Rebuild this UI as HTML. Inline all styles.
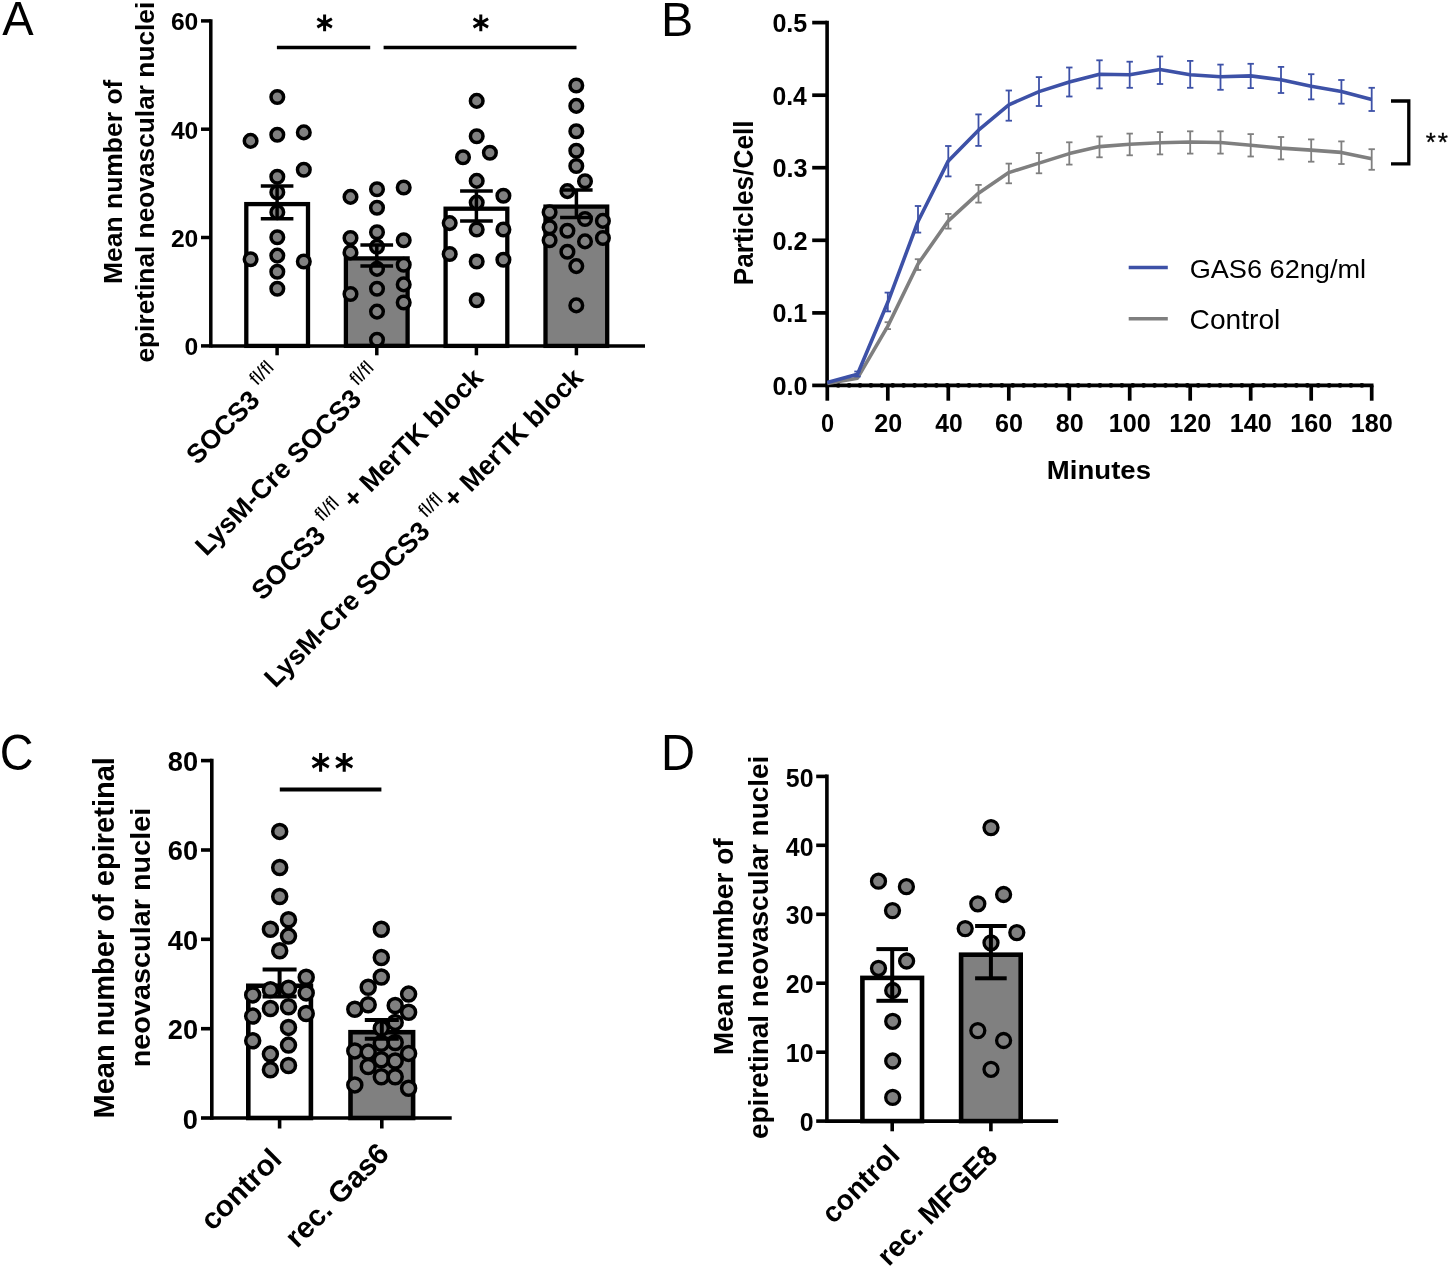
<!DOCTYPE html>
<html><head><meta charset="utf-8"><style>
html,body{margin:0;padding:0;background:#fff;}
svg{display:block;will-change:transform;}
text{font-family:"Liberation Sans",sans-serif;fill:#000;}
</style></head><body>
<svg width="1450" height="1269" viewBox="0 0 1450 1269">
<rect width="1450" height="1269" fill="#fff"/>
<text transform="translate(2.18,35.40) scale(0.9708,1)" font-size="48.51" font-weight="normal">A</text>
<rect x="246.3" y="204.1" width="61.7" height="141.8" fill="#fff" stroke="#000" stroke-width="4.3"/>
<rect x="345.9" y="258.4" width="61.7" height="87.4" fill="#808080" stroke="#000" stroke-width="4.3"/>
<rect x="445.6" y="208.7" width="61.7" height="137.2" fill="#fff" stroke="#000" stroke-width="4.3"/>
<rect x="545.5" y="206.6" width="61.7" height="139.3" fill="#808080" stroke="#000" stroke-width="4.3"/>
<circle cx="277.3" cy="97.0" r="6.3" fill="#808080" stroke="#000" stroke-width="3.5"/>
<circle cx="250.6" cy="140.9" r="6.3" fill="#808080" stroke="#000" stroke-width="3.5"/>
<circle cx="277.3" cy="134.7" r="6.3" fill="#808080" stroke="#000" stroke-width="3.5"/>
<circle cx="303.8" cy="132.4" r="6.3" fill="#808080" stroke="#000" stroke-width="3.5"/>
<circle cx="303.8" cy="169.7" r="6.3" fill="#808080" stroke="#000" stroke-width="3.5"/>
<circle cx="277.3" cy="176.7" r="6.3" fill="#808080" stroke="#000" stroke-width="3.5"/>
<circle cx="277.3" cy="192.3" r="6.3" fill="#808080" stroke="#000" stroke-width="3.5"/>
<circle cx="277.3" cy="212.2" r="6.3" fill="#808080" stroke="#000" stroke-width="3.5"/>
<circle cx="277.3" cy="237.3" r="6.3" fill="#808080" stroke="#000" stroke-width="3.5"/>
<circle cx="250.6" cy="259.3" r="6.3" fill="#808080" stroke="#000" stroke-width="3.5"/>
<circle cx="277.3" cy="255.6" r="6.3" fill="#808080" stroke="#000" stroke-width="3.5"/>
<circle cx="303.8" cy="261.5" r="6.3" fill="#808080" stroke="#000" stroke-width="3.5"/>
<circle cx="277.3" cy="271.8" r="6.3" fill="#808080" stroke="#000" stroke-width="3.5"/>
<circle cx="277.3" cy="288.7" r="6.3" fill="#808080" stroke="#000" stroke-width="3.5"/>
<circle cx="350.5" cy="196.9" r="6.3" fill="#808080" stroke="#000" stroke-width="3.5"/>
<circle cx="377.0" cy="189.3" r="6.3" fill="#808080" stroke="#000" stroke-width="3.5"/>
<circle cx="403.7" cy="187.5" r="6.3" fill="#808080" stroke="#000" stroke-width="3.5"/>
<circle cx="377.0" cy="207.8" r="6.3" fill="#808080" stroke="#000" stroke-width="3.5"/>
<circle cx="350.5" cy="238.0" r="6.3" fill="#808080" stroke="#000" stroke-width="3.5"/>
<circle cx="377.0" cy="232.3" r="6.3" fill="#808080" stroke="#000" stroke-width="3.5"/>
<circle cx="403.7" cy="240.3" r="6.3" fill="#808080" stroke="#000" stroke-width="3.5"/>
<circle cx="377.0" cy="246.7" r="6.3" fill="#808080" stroke="#000" stroke-width="3.5"/>
<circle cx="350.5" cy="252.4" r="6.3" fill="#808080" stroke="#000" stroke-width="3.5"/>
<circle cx="403.7" cy="264.7" r="6.3" fill="#808080" stroke="#000" stroke-width="3.5"/>
<circle cx="377.0" cy="268.9" r="6.3" fill="#808080" stroke="#000" stroke-width="3.5"/>
<circle cx="403.7" cy="284.4" r="6.3" fill="#808080" stroke="#000" stroke-width="3.5"/>
<circle cx="377.0" cy="288.7" r="6.3" fill="#808080" stroke="#000" stroke-width="3.5"/>
<circle cx="350.5" cy="294.0" r="6.3" fill="#808080" stroke="#000" stroke-width="3.5"/>
<circle cx="403.7" cy="302.5" r="6.3" fill="#808080" stroke="#000" stroke-width="3.5"/>
<circle cx="377.0" cy="311.6" r="6.3" fill="#808080" stroke="#000" stroke-width="3.5"/>
<circle cx="377.0" cy="339.7" r="6.3" fill="#808080" stroke="#000" stroke-width="3.5"/>
<circle cx="476.7" cy="100.9" r="6.3" fill="#808080" stroke="#000" stroke-width="3.5"/>
<circle cx="476.7" cy="136.3" r="6.3" fill="#808080" stroke="#000" stroke-width="3.5"/>
<circle cx="463.0" cy="157.3" r="6.3" fill="#808080" stroke="#000" stroke-width="3.5"/>
<circle cx="489.9" cy="152.7" r="6.3" fill="#808080" stroke="#000" stroke-width="3.5"/>
<circle cx="476.7" cy="180.9" r="6.3" fill="#808080" stroke="#000" stroke-width="3.5"/>
<circle cx="503.4" cy="195.7" r="6.3" fill="#808080" stroke="#000" stroke-width="3.5"/>
<circle cx="476.7" cy="202.6" r="6.3" fill="#808080" stroke="#000" stroke-width="3.5"/>
<circle cx="449.7" cy="223.1" r="6.3" fill="#808080" stroke="#000" stroke-width="3.5"/>
<circle cx="476.7" cy="229.5" r="6.3" fill="#808080" stroke="#000" stroke-width="3.5"/>
<circle cx="503.4" cy="229.5" r="6.3" fill="#808080" stroke="#000" stroke-width="3.5"/>
<circle cx="449.7" cy="254.0" r="6.3" fill="#808080" stroke="#000" stroke-width="3.5"/>
<circle cx="476.7" cy="261.5" r="6.3" fill="#808080" stroke="#000" stroke-width="3.5"/>
<circle cx="503.4" cy="259.7" r="6.3" fill="#808080" stroke="#000" stroke-width="3.5"/>
<circle cx="476.7" cy="300.2" r="6.3" fill="#808080" stroke="#000" stroke-width="3.5"/>
<circle cx="576.3" cy="85.5" r="6.3" fill="#808080" stroke="#000" stroke-width="3.5"/>
<circle cx="576.3" cy="105.9" r="6.3" fill="#808080" stroke="#000" stroke-width="3.5"/>
<circle cx="576.3" cy="131.3" r="6.3" fill="#808080" stroke="#000" stroke-width="3.5"/>
<circle cx="576.3" cy="150.7" r="6.3" fill="#808080" stroke="#000" stroke-width="3.5"/>
<circle cx="576.3" cy="166.0" r="6.3" fill="#808080" stroke="#000" stroke-width="3.5"/>
<circle cx="585.0" cy="181.3" r="6.3" fill="#808080" stroke="#000" stroke-width="3.5"/>
<circle cx="567.4" cy="191.1" r="6.3" fill="#808080" stroke="#000" stroke-width="3.5"/>
<circle cx="549.6" cy="212.2" r="6.3" fill="#808080" stroke="#000" stroke-width="3.5"/>
<circle cx="585.0" cy="219.0" r="6.3" fill="#808080" stroke="#000" stroke-width="3.5"/>
<circle cx="602.9" cy="220.9" r="6.3" fill="#808080" stroke="#000" stroke-width="3.5"/>
<circle cx="549.6" cy="227.3" r="6.3" fill="#808080" stroke="#000" stroke-width="3.5"/>
<circle cx="567.4" cy="230.7" r="6.3" fill="#808080" stroke="#000" stroke-width="3.5"/>
<circle cx="549.6" cy="240.3" r="6.3" fill="#808080" stroke="#000" stroke-width="3.5"/>
<circle cx="585.0" cy="241.4" r="6.3" fill="#808080" stroke="#000" stroke-width="3.5"/>
<circle cx="602.9" cy="238.0" r="6.3" fill="#808080" stroke="#000" stroke-width="3.5"/>
<circle cx="567.4" cy="251.7" r="6.3" fill="#808080" stroke="#000" stroke-width="3.5"/>
<circle cx="576.3" cy="266.1" r="6.3" fill="#808080" stroke="#000" stroke-width="3.5"/>
<circle cx="576.3" cy="305.4" r="6.3" fill="#808080" stroke="#000" stroke-width="3.5"/>
<line x1="277.1" y1="185.9" x2="277.1" y2="218.8" stroke="#000" stroke-width="3.5" stroke-linecap="butt"/>
<line x1="260.8" y1="185.9" x2="293.4" y2="185.9" stroke="#000" stroke-width="3.5" stroke-linecap="butt"/>
<line x1="260.8" y1="218.8" x2="293.4" y2="218.8" stroke="#000" stroke-width="3.5" stroke-linecap="butt"/>
<line x1="376.8" y1="244.9" x2="376.8" y2="266.1" stroke="#000" stroke-width="3.5" stroke-linecap="butt"/>
<line x1="360.4" y1="244.9" x2="393.1" y2="244.9" stroke="#000" stroke-width="3.5" stroke-linecap="butt"/>
<line x1="360.4" y1="266.1" x2="393.1" y2="266.1" stroke="#000" stroke-width="3.5" stroke-linecap="butt"/>
<line x1="476.4" y1="191.1" x2="476.4" y2="220.9" stroke="#000" stroke-width="3.5" stroke-linecap="butt"/>
<line x1="460.1" y1="191.1" x2="492.8" y2="191.1" stroke="#000" stroke-width="3.5" stroke-linecap="butt"/>
<line x1="460.1" y1="220.9" x2="492.8" y2="220.9" stroke="#000" stroke-width="3.5" stroke-linecap="butt"/>
<line x1="576.4" y1="190.0" x2="576.4" y2="217.4" stroke="#000" stroke-width="3.5" stroke-linecap="butt"/>
<line x1="560.1" y1="190.0" x2="592.6" y2="190.0" stroke="#000" stroke-width="3.5" stroke-linecap="butt"/>
<line x1="560.1" y1="217.4" x2="592.6" y2="217.4" stroke="#000" stroke-width="3.5" stroke-linecap="butt"/>
<line x1="210.8" y1="19.2" x2="210.8" y2="347.6" stroke="#000" stroke-width="3.5" stroke-linecap="butt"/>
<line x1="201.0" y1="345.9" x2="210.8" y2="345.9" stroke="#000" stroke-width="3.5" stroke-linecap="butt"/>
<line x1="201.0" y1="237.5" x2="210.8" y2="237.5" stroke="#000" stroke-width="3.5" stroke-linecap="butt"/>
<line x1="201.0" y1="129.2" x2="210.8" y2="129.2" stroke="#000" stroke-width="3.5" stroke-linecap="butt"/>
<line x1="201.0" y1="20.9" x2="210.8" y2="20.9" stroke="#000" stroke-width="3.5" stroke-linecap="butt"/>
<line x1="210.8" y1="345.9" x2="645.0" y2="345.9" stroke="#000" stroke-width="3.5" stroke-linecap="butt"/>
<line x1="277.1" y1="345.9" x2="277.1" y2="355.3" stroke="#000" stroke-width="3.5" stroke-linecap="butt"/>
<line x1="376.8" y1="345.9" x2="376.8" y2="355.3" stroke="#000" stroke-width="3.5" stroke-linecap="butt"/>
<line x1="476.4" y1="345.9" x2="476.4" y2="355.3" stroke="#000" stroke-width="3.5" stroke-linecap="butt"/>
<line x1="576.4" y1="345.9" x2="576.4" y2="355.3" stroke="#000" stroke-width="3.5" stroke-linecap="butt"/>
<text transform="translate(184.60,355.15)" font-size="24.66" font-weight="bold">0</text>
<text transform="translate(170.91,246.83)" font-size="24.66" font-weight="bold">20</text>
<text transform="translate(170.91,138.52)" font-size="24.66" font-weight="bold">40</text>
<text transform="translate(170.91,30.20)" font-size="24.66" font-weight="bold">60</text>
<text transform="translate(121.90,283.99) rotate(-90) scale(1.0213,1)" font-size="25.93" font-weight="bold">Mean number of</text>
<text transform="translate(154.40,362.55) rotate(-90) scale(1.0198,1)" font-size="25.79" font-weight="bold">epiretinal neovascular nuclei</text>
<line x1="276.9" y1="47.5" x2="370.2" y2="47.5" stroke="#000" stroke-width="3.5" stroke-linecap="butt"/>
<line x1="383.6" y1="47.5" x2="576.5" y2="47.5" stroke="#000" stroke-width="3.5" stroke-linecap="butt"/>
<path d="M324.60,14.50L324.60,31.30M331.87,18.70L317.33,27.10M331.87,27.10L317.33,18.70" stroke="#000" stroke-width="3.0" fill="none"/>
<path d="M480.80,14.50L480.80,31.30M488.07,18.70L473.53,27.10M488.07,27.10L473.53,18.70" stroke="#000" stroke-width="3.0" fill="none"/>
<text transform="translate(197.35,465.63) rotate(-45) scale(0.9917,1)" font-size="26.90" font-weight="bold">SOCS3</text>
<text transform="translate(257.11,386.36) rotate(-45) scale(1.0242,1)" font-size="19.20" font-weight="normal">fl/fl</text>
<text transform="translate(206.24,557.01) rotate(-45) scale(1.0056,1)" font-size="26.90" font-weight="bold">LysM-Cre SOCS3</text>
<text transform="translate(357.16,386.57) rotate(-45) scale(1.0199,1)" font-size="19.20" font-weight="normal">fl/fl</text>
<text transform="translate(262.62,601.47) rotate(-45) scale(0.9984,1)" font-size="26.90" font-weight="bold">SOCS3</text>
<text transform="translate(322.23,522.34) rotate(-45) scale(1.0329,1)" font-size="19.20" font-weight="normal">fl/fl</text>
<text transform="translate(354.09,510.00) rotate(-45)" font-size="26.90" font-weight="bold">+ MerTK block</text>
<text transform="translate(275.26,688.67) rotate(-45) scale(1.0028,1)" font-size="26.90" font-weight="bold">LysM-Cre SOCS3</text>
<text transform="translate(425.96,518.45) rotate(-45) scale(1.0242,1)" font-size="19.20" font-weight="normal">fl/fl</text>
<text transform="translate(454.36,509.57) rotate(-45) scale(0.9982,1)" font-size="26.90" font-weight="bold">+ MerTK block</text>
<text transform="translate(660.92,35.50) scale(0.9920,1)" font-size="48.65" font-weight="normal">B</text>
<line x1="827.1" y1="20.8" x2="827.1" y2="385.4" stroke="#000" stroke-width="3.6" stroke-linecap="butt"/>
<line x1="812.2" y1="385.4" x2="827.1" y2="385.4" stroke="#000" stroke-width="3.7" stroke-linecap="butt"/>
<text transform="translate(772.39,395.05) scale(0.9987,1)" font-size="25.38" font-weight="bold">0.0</text>
<line x1="812.2" y1="312.9" x2="827.1" y2="312.9" stroke="#000" stroke-width="3.7" stroke-linecap="butt"/>
<text transform="translate(772.40,322.48) scale(0.9893,1)" font-size="25.38" font-weight="bold">0.1</text>
<line x1="812.2" y1="240.3" x2="827.1" y2="240.3" stroke="#000" stroke-width="3.7" stroke-linecap="butt"/>
<text transform="translate(772.39,249.91) scale(0.9987,1)" font-size="25.38" font-weight="bold">0.2</text>
<line x1="812.2" y1="167.7" x2="827.1" y2="167.7" stroke="#000" stroke-width="3.7" stroke-linecap="butt"/>
<text transform="translate(772.39,177.34) scale(0.9949,1)" font-size="25.38" font-weight="bold">0.3</text>
<line x1="812.2" y1="95.2" x2="827.1" y2="95.2" stroke="#000" stroke-width="3.7" stroke-linecap="butt"/>
<text transform="translate(772.41,104.77) scale(0.9727,1)" font-size="25.38" font-weight="bold">0.4</text>
<line x1="812.2" y1="22.6" x2="827.1" y2="22.6" stroke="#000" stroke-width="3.7" stroke-linecap="butt"/>
<text transform="translate(772.40,32.20) scale(0.9893,1)" font-size="25.38" font-weight="bold">0.5</text>
<line x1="825.5" y1="385.4" x2="1373.5" y2="385.4" stroke="#000" stroke-width="3.7" stroke-linecap="butt"/>
<line x1="827.3" y1="385.45" x2="1368" y2="385.45" stroke="#000" stroke-width="4.7" stroke-dasharray="0.01 10.9" stroke-linecap="round"/>
<line x1="827.3" y1="385.4" x2="827.3" y2="400.7" stroke="#000" stroke-width="3.7" stroke-linecap="butt"/>
<text transform="translate(821.06,432.40) scale(0.9292,1)" font-size="25.38" font-weight="bold">0</text>
<line x1="887.8" y1="385.4" x2="887.8" y2="400.7" stroke="#000" stroke-width="3.7" stroke-linecap="butt"/>
<text transform="translate(874.21,432.40) scale(0.9899,1)" font-size="25.38" font-weight="bold">20</text>
<line x1="948.3" y1="385.4" x2="948.3" y2="400.7" stroke="#000" stroke-width="3.7" stroke-linecap="butt"/>
<text transform="translate(935.21,432.40) scale(0.9712,1)" font-size="25.38" font-weight="bold">40</text>
<line x1="1008.8" y1="385.4" x2="1008.8" y2="400.7" stroke="#000" stroke-width="3.7" stroke-linecap="butt"/>
<text transform="translate(995.12,432.40) scale(0.9923,1)" font-size="25.38" font-weight="bold">60</text>
<line x1="1069.3" y1="385.4" x2="1069.3" y2="400.7" stroke="#000" stroke-width="3.7" stroke-linecap="butt"/>
<text transform="translate(1055.74,432.40) scale(0.9875,1)" font-size="25.38" font-weight="bold">80</text>
<line x1="1129.7" y1="385.4" x2="1129.7" y2="400.7" stroke="#000" stroke-width="3.7" stroke-linecap="butt"/>
<text transform="translate(1108.71,432.40) scale(0.9946,1)" font-size="25.38" font-weight="bold">100</text>
<line x1="1190.2" y1="385.4" x2="1190.2" y2="400.7" stroke="#000" stroke-width="3.7" stroke-linecap="butt"/>
<text transform="translate(1169.20,432.40) scale(0.9946,1)" font-size="25.38" font-weight="bold">120</text>
<line x1="1250.7" y1="385.4" x2="1250.7" y2="400.7" stroke="#000" stroke-width="3.7" stroke-linecap="butt"/>
<text transform="translate(1229.69,432.40) scale(0.9946,1)" font-size="25.38" font-weight="bold">140</text>
<line x1="1311.2" y1="385.4" x2="1311.2" y2="400.7" stroke="#000" stroke-width="3.7" stroke-linecap="butt"/>
<text transform="translate(1290.18,432.40) scale(0.9946,1)" font-size="25.38" font-weight="bold">160</text>
<line x1="1371.7" y1="385.4" x2="1371.7" y2="400.7" stroke="#000" stroke-width="3.7" stroke-linecap="butt"/>
<text transform="translate(1350.66,432.40) scale(0.9946,1)" font-size="25.38" font-weight="bold">180</text>
<text transform="translate(1046.84,479.30) scale(1.0578,1)" font-size="26.07" font-weight="bold">Minutes</text>
<text transform="translate(753.30,285.27) rotate(-90) scale(0.9378,1)" font-size="28.00" font-weight="bold">Particles/Cell</text>
<line x1="887.8" y1="322.2" x2="887.8" y2="329.1" stroke="#7f7f7f" stroke-width="1.8" stroke-linecap="butt"/>
<line x1="884.6" y1="322.2" x2="891.0" y2="322.2" stroke="#7f7f7f" stroke-width="1.8" stroke-linecap="butt"/>
<line x1="884.6" y1="329.1" x2="891.0" y2="329.1" stroke="#7f7f7f" stroke-width="1.8" stroke-linecap="butt"/>
<line x1="918.0" y1="259.2" x2="918.0" y2="270.0" stroke="#7f7f7f" stroke-width="1.8" stroke-linecap="butt"/>
<line x1="914.8" y1="259.2" x2="921.2" y2="259.2" stroke="#7f7f7f" stroke-width="1.8" stroke-linecap="butt"/>
<line x1="914.8" y1="270.0" x2="921.2" y2="270.0" stroke="#7f7f7f" stroke-width="1.8" stroke-linecap="butt"/>
<line x1="948.3" y1="213.9" x2="948.3" y2="228.6" stroke="#7f7f7f" stroke-width="1.8" stroke-linecap="butt"/>
<line x1="945.1" y1="213.9" x2="951.5" y2="213.9" stroke="#7f7f7f" stroke-width="1.8" stroke-linecap="butt"/>
<line x1="945.1" y1="228.6" x2="951.5" y2="228.6" stroke="#7f7f7f" stroke-width="1.8" stroke-linecap="butt"/>
<line x1="978.5" y1="184.9" x2="978.5" y2="202.6" stroke="#7f7f7f" stroke-width="1.8" stroke-linecap="butt"/>
<line x1="975.3" y1="184.9" x2="981.7" y2="184.9" stroke="#7f7f7f" stroke-width="1.8" stroke-linecap="butt"/>
<line x1="975.3" y1="202.6" x2="981.7" y2="202.6" stroke="#7f7f7f" stroke-width="1.8" stroke-linecap="butt"/>
<line x1="1008.8" y1="163.6" x2="1008.8" y2="183.3" stroke="#7f7f7f" stroke-width="1.8" stroke-linecap="butt"/>
<line x1="1005.6" y1="163.6" x2="1012.0" y2="163.6" stroke="#7f7f7f" stroke-width="1.8" stroke-linecap="butt"/>
<line x1="1005.6" y1="183.3" x2="1012.0" y2="183.3" stroke="#7f7f7f" stroke-width="1.8" stroke-linecap="butt"/>
<line x1="1039.0" y1="153.0" x2="1039.0" y2="173.3" stroke="#7f7f7f" stroke-width="1.8" stroke-linecap="butt"/>
<line x1="1035.8" y1="153.0" x2="1042.2" y2="153.0" stroke="#7f7f7f" stroke-width="1.8" stroke-linecap="butt"/>
<line x1="1035.8" y1="173.3" x2="1042.2" y2="173.3" stroke="#7f7f7f" stroke-width="1.8" stroke-linecap="butt"/>
<line x1="1069.3" y1="142.3" x2="1069.3" y2="164.6" stroke="#7f7f7f" stroke-width="1.8" stroke-linecap="butt"/>
<line x1="1066.1" y1="142.3" x2="1072.5" y2="142.3" stroke="#7f7f7f" stroke-width="1.8" stroke-linecap="butt"/>
<line x1="1066.1" y1="164.6" x2="1072.5" y2="164.6" stroke="#7f7f7f" stroke-width="1.8" stroke-linecap="butt"/>
<line x1="1099.5" y1="136.5" x2="1099.5" y2="157.3" stroke="#7f7f7f" stroke-width="1.8" stroke-linecap="butt"/>
<line x1="1096.3" y1="136.5" x2="1102.7" y2="136.5" stroke="#7f7f7f" stroke-width="1.8" stroke-linecap="butt"/>
<line x1="1096.3" y1="157.3" x2="1102.7" y2="157.3" stroke="#7f7f7f" stroke-width="1.8" stroke-linecap="butt"/>
<line x1="1129.7" y1="133.6" x2="1129.7" y2="155.3" stroke="#7f7f7f" stroke-width="1.8" stroke-linecap="butt"/>
<line x1="1126.5" y1="133.6" x2="1132.9" y2="133.6" stroke="#7f7f7f" stroke-width="1.8" stroke-linecap="butt"/>
<line x1="1126.5" y1="155.3" x2="1132.9" y2="155.3" stroke="#7f7f7f" stroke-width="1.8" stroke-linecap="butt"/>
<line x1="1160.0" y1="132.1" x2="1160.0" y2="154.4" stroke="#7f7f7f" stroke-width="1.8" stroke-linecap="butt"/>
<line x1="1156.8" y1="132.1" x2="1163.2" y2="132.1" stroke="#7f7f7f" stroke-width="1.8" stroke-linecap="butt"/>
<line x1="1156.8" y1="154.4" x2="1163.2" y2="154.4" stroke="#7f7f7f" stroke-width="1.8" stroke-linecap="butt"/>
<line x1="1190.2" y1="131.3" x2="1190.2" y2="153.6" stroke="#7f7f7f" stroke-width="1.8" stroke-linecap="butt"/>
<line x1="1187.0" y1="131.3" x2="1193.4" y2="131.3" stroke="#7f7f7f" stroke-width="1.8" stroke-linecap="butt"/>
<line x1="1187.0" y1="153.6" x2="1193.4" y2="153.6" stroke="#7f7f7f" stroke-width="1.8" stroke-linecap="butt"/>
<line x1="1220.5" y1="131.3" x2="1220.5" y2="153.6" stroke="#7f7f7f" stroke-width="1.8" stroke-linecap="butt"/>
<line x1="1217.3" y1="131.3" x2="1223.7" y2="131.3" stroke="#7f7f7f" stroke-width="1.8" stroke-linecap="butt"/>
<line x1="1217.3" y1="153.6" x2="1223.7" y2="153.6" stroke="#7f7f7f" stroke-width="1.8" stroke-linecap="butt"/>
<line x1="1250.7" y1="134.1" x2="1250.7" y2="156.5" stroke="#7f7f7f" stroke-width="1.8" stroke-linecap="butt"/>
<line x1="1247.5" y1="134.1" x2="1253.9" y2="134.1" stroke="#7f7f7f" stroke-width="1.8" stroke-linecap="butt"/>
<line x1="1247.5" y1="156.5" x2="1253.9" y2="156.5" stroke="#7f7f7f" stroke-width="1.8" stroke-linecap="butt"/>
<line x1="1281.0" y1="137.0" x2="1281.0" y2="159.4" stroke="#7f7f7f" stroke-width="1.8" stroke-linecap="butt"/>
<line x1="1277.8" y1="137.0" x2="1284.2" y2="137.0" stroke="#7f7f7f" stroke-width="1.8" stroke-linecap="butt"/>
<line x1="1277.8" y1="159.4" x2="1284.2" y2="159.4" stroke="#7f7f7f" stroke-width="1.8" stroke-linecap="butt"/>
<line x1="1311.2" y1="139.4" x2="1311.2" y2="161.7" stroke="#7f7f7f" stroke-width="1.8" stroke-linecap="butt"/>
<line x1="1308.0" y1="139.4" x2="1314.4" y2="139.4" stroke="#7f7f7f" stroke-width="1.8" stroke-linecap="butt"/>
<line x1="1308.0" y1="161.7" x2="1314.4" y2="161.7" stroke="#7f7f7f" stroke-width="1.8" stroke-linecap="butt"/>
<line x1="1341.4" y1="141.4" x2="1341.4" y2="164.0" stroke="#7f7f7f" stroke-width="1.8" stroke-linecap="butt"/>
<line x1="1338.2" y1="141.4" x2="1344.6" y2="141.4" stroke="#7f7f7f" stroke-width="1.8" stroke-linecap="butt"/>
<line x1="1338.2" y1="164.0" x2="1344.6" y2="164.0" stroke="#7f7f7f" stroke-width="1.8" stroke-linecap="butt"/>
<line x1="1371.7" y1="149.2" x2="1371.7" y2="169.8" stroke="#7f7f7f" stroke-width="1.8" stroke-linecap="butt"/>
<line x1="1368.5" y1="149.2" x2="1374.9" y2="149.2" stroke="#7f7f7f" stroke-width="1.8" stroke-linecap="butt"/>
<line x1="1368.5" y1="169.8" x2="1374.9" y2="169.8" stroke="#7f7f7f" stroke-width="1.8" stroke-linecap="butt"/>
<polyline points="827.3,383.6 857.5,378.2 887.8,326.1 918.0,264.0 948.3,220.8 978.5,193.2 1008.8,172.6 1039.0,163.1 1069.3,153.6 1099.5,146.6 1129.7,144.3 1160.0,142.8 1190.2,142.0 1220.5,142.5 1250.7,145.2 1281.0,148.1 1311.2,150.1 1341.4,152.4 1371.7,158.8" fill="none" stroke="#7f7f7f" stroke-width="3.6" stroke-linejoin="round"/>
<line x1="857.5" y1="371.5" x2="857.5" y2="376.5" stroke="#3d51a7" stroke-width="1.8" stroke-linecap="butt"/>
<line x1="854.3" y1="371.5" x2="860.7" y2="371.5" stroke="#3d51a7" stroke-width="1.8" stroke-linecap="butt"/>
<line x1="854.3" y1="376.5" x2="860.7" y2="376.5" stroke="#3d51a7" stroke-width="1.8" stroke-linecap="butt"/>
<line x1="887.8" y1="292.6" x2="887.8" y2="311.4" stroke="#3d51a7" stroke-width="1.8" stroke-linecap="butt"/>
<line x1="884.6" y1="292.6" x2="891.0" y2="292.6" stroke="#3d51a7" stroke-width="1.8" stroke-linecap="butt"/>
<line x1="884.6" y1="311.4" x2="891.0" y2="311.4" stroke="#3d51a7" stroke-width="1.8" stroke-linecap="butt"/>
<line x1="918.0" y1="206.0" x2="918.0" y2="232.6" stroke="#3d51a7" stroke-width="1.8" stroke-linecap="butt"/>
<line x1="914.8" y1="206.0" x2="921.2" y2="206.0" stroke="#3d51a7" stroke-width="1.8" stroke-linecap="butt"/>
<line x1="914.8" y1="232.6" x2="921.2" y2="232.6" stroke="#3d51a7" stroke-width="1.8" stroke-linecap="butt"/>
<line x1="948.3" y1="146.0" x2="948.3" y2="176.4" stroke="#3d51a7" stroke-width="1.8" stroke-linecap="butt"/>
<line x1="945.1" y1="146.0" x2="951.5" y2="146.0" stroke="#3d51a7" stroke-width="1.8" stroke-linecap="butt"/>
<line x1="945.1" y1="176.4" x2="951.5" y2="176.4" stroke="#3d51a7" stroke-width="1.8" stroke-linecap="butt"/>
<line x1="978.5" y1="114.4" x2="978.5" y2="145.9" stroke="#3d51a7" stroke-width="1.8" stroke-linecap="butt"/>
<line x1="975.3" y1="114.4" x2="981.7" y2="114.4" stroke="#3d51a7" stroke-width="1.8" stroke-linecap="butt"/>
<line x1="975.3" y1="145.9" x2="981.7" y2="145.9" stroke="#3d51a7" stroke-width="1.8" stroke-linecap="butt"/>
<line x1="1008.8" y1="90.5" x2="1008.8" y2="120.7" stroke="#3d51a7" stroke-width="1.8" stroke-linecap="butt"/>
<line x1="1005.6" y1="90.5" x2="1012.0" y2="90.5" stroke="#3d51a7" stroke-width="1.8" stroke-linecap="butt"/>
<line x1="1005.6" y1="120.7" x2="1012.0" y2="120.7" stroke="#3d51a7" stroke-width="1.8" stroke-linecap="butt"/>
<line x1="1039.0" y1="77.1" x2="1039.0" y2="106.0" stroke="#3d51a7" stroke-width="1.8" stroke-linecap="butt"/>
<line x1="1035.8" y1="77.1" x2="1042.2" y2="77.1" stroke="#3d51a7" stroke-width="1.8" stroke-linecap="butt"/>
<line x1="1035.8" y1="106.0" x2="1042.2" y2="106.0" stroke="#3d51a7" stroke-width="1.8" stroke-linecap="butt"/>
<line x1="1069.3" y1="67.5" x2="1069.3" y2="96.5" stroke="#3d51a7" stroke-width="1.8" stroke-linecap="butt"/>
<line x1="1066.1" y1="67.5" x2="1072.5" y2="67.5" stroke="#3d51a7" stroke-width="1.8" stroke-linecap="butt"/>
<line x1="1066.1" y1="96.5" x2="1072.5" y2="96.5" stroke="#3d51a7" stroke-width="1.8" stroke-linecap="butt"/>
<line x1="1099.5" y1="60.3" x2="1099.5" y2="88.4" stroke="#3d51a7" stroke-width="1.8" stroke-linecap="butt"/>
<line x1="1096.3" y1="60.3" x2="1102.7" y2="60.3" stroke="#3d51a7" stroke-width="1.8" stroke-linecap="butt"/>
<line x1="1096.3" y1="88.4" x2="1102.7" y2="88.4" stroke="#3d51a7" stroke-width="1.8" stroke-linecap="butt"/>
<line x1="1129.7" y1="61.7" x2="1129.7" y2="87.8" stroke="#3d51a7" stroke-width="1.8" stroke-linecap="butt"/>
<line x1="1126.5" y1="61.7" x2="1132.9" y2="61.7" stroke="#3d51a7" stroke-width="1.8" stroke-linecap="butt"/>
<line x1="1126.5" y1="87.8" x2="1132.9" y2="87.8" stroke="#3d51a7" stroke-width="1.8" stroke-linecap="butt"/>
<line x1="1160.0" y1="56.5" x2="1160.0" y2="84.0" stroke="#3d51a7" stroke-width="1.8" stroke-linecap="butt"/>
<line x1="1156.8" y1="56.5" x2="1163.2" y2="56.5" stroke="#3d51a7" stroke-width="1.8" stroke-linecap="butt"/>
<line x1="1156.8" y1="84.0" x2="1163.2" y2="84.0" stroke="#3d51a7" stroke-width="1.8" stroke-linecap="butt"/>
<line x1="1190.2" y1="60.9" x2="1190.2" y2="87.8" stroke="#3d51a7" stroke-width="1.8" stroke-linecap="butt"/>
<line x1="1187.0" y1="60.9" x2="1193.4" y2="60.9" stroke="#3d51a7" stroke-width="1.8" stroke-linecap="butt"/>
<line x1="1187.0" y1="87.8" x2="1193.4" y2="87.8" stroke="#3d51a7" stroke-width="1.8" stroke-linecap="butt"/>
<line x1="1220.5" y1="64.6" x2="1220.5" y2="89.8" stroke="#3d51a7" stroke-width="1.8" stroke-linecap="butt"/>
<line x1="1217.3" y1="64.6" x2="1223.7" y2="64.6" stroke="#3d51a7" stroke-width="1.8" stroke-linecap="butt"/>
<line x1="1217.3" y1="89.8" x2="1223.7" y2="89.8" stroke="#3d51a7" stroke-width="1.8" stroke-linecap="butt"/>
<line x1="1250.7" y1="63.8" x2="1250.7" y2="88.1" stroke="#3d51a7" stroke-width="1.8" stroke-linecap="butt"/>
<line x1="1247.5" y1="63.8" x2="1253.9" y2="63.8" stroke="#3d51a7" stroke-width="1.8" stroke-linecap="butt"/>
<line x1="1247.5" y1="88.1" x2="1253.9" y2="88.1" stroke="#3d51a7" stroke-width="1.8" stroke-linecap="butt"/>
<line x1="1281.0" y1="66.9" x2="1281.0" y2="93.0" stroke="#3d51a7" stroke-width="1.8" stroke-linecap="butt"/>
<line x1="1277.8" y1="66.9" x2="1284.2" y2="66.9" stroke="#3d51a7" stroke-width="1.8" stroke-linecap="butt"/>
<line x1="1277.8" y1="93.0" x2="1284.2" y2="93.0" stroke="#3d51a7" stroke-width="1.8" stroke-linecap="butt"/>
<line x1="1311.2" y1="74.2" x2="1311.2" y2="99.4" stroke="#3d51a7" stroke-width="1.8" stroke-linecap="butt"/>
<line x1="1308.0" y1="74.2" x2="1314.4" y2="74.2" stroke="#3d51a7" stroke-width="1.8" stroke-linecap="butt"/>
<line x1="1308.0" y1="99.4" x2="1314.4" y2="99.4" stroke="#3d51a7" stroke-width="1.8" stroke-linecap="butt"/>
<line x1="1341.4" y1="80.0" x2="1341.4" y2="103.7" stroke="#3d51a7" stroke-width="1.8" stroke-linecap="butt"/>
<line x1="1338.2" y1="80.0" x2="1344.6" y2="80.0" stroke="#3d51a7" stroke-width="1.8" stroke-linecap="butt"/>
<line x1="1338.2" y1="103.7" x2="1344.6" y2="103.7" stroke="#3d51a7" stroke-width="1.8" stroke-linecap="butt"/>
<line x1="1371.7" y1="87.8" x2="1371.7" y2="111.0" stroke="#3d51a7" stroke-width="1.8" stroke-linecap="butt"/>
<line x1="1368.5" y1="87.8" x2="1374.9" y2="87.8" stroke="#3d51a7" stroke-width="1.8" stroke-linecap="butt"/>
<line x1="1368.5" y1="111.0" x2="1374.9" y2="111.0" stroke="#3d51a7" stroke-width="1.8" stroke-linecap="butt"/>
<polyline points="827.3,382.6 857.5,374.2 887.8,302.3 918.0,221.5 948.3,160.9 978.5,130.2 1008.8,104.8 1039.0,91.6 1069.3,82.0 1099.5,74.2 1129.7,74.8 1160.0,69.5 1190.2,74.8 1220.5,76.8 1250.7,75.9 1281.0,79.7 1311.2,86.3 1341.4,91.6 1371.7,99.4" fill="none" stroke="#3d51a7" stroke-width="3.6" stroke-linejoin="round"/>
<line x1="1128.7" y1="267.5" x2="1167.8" y2="267.5" stroke="#3d51a7" stroke-width="3.6" stroke-linecap="butt"/>
<line x1="1128.7" y1="318.7" x2="1167.8" y2="318.7" stroke="#7f7f7f" stroke-width="3.6" stroke-linecap="butt"/>
<text transform="translate(1189.64,277.60) scale(1.0359,1)" font-size="26.21" font-weight="normal">GAS6 62ng/ml</text>
<text transform="translate(1189.59,329.00) scale(1.0156,1)" font-size="27.72" font-weight="normal">Control</text>
<path d="M1391,101 H1408.8 V163.8 H1391" fill="none" stroke="#000" stroke-width="3.3"/>
<text transform="translate(1425.85,150.87) scale(0.9753,1)" font-size="26.57" font-weight="normal" stroke="#000" stroke-width="0.35">*</text>
<text transform="translate(1437.84,150.87) scale(0.9859,1)" font-size="26.57" font-weight="normal" stroke="#000" stroke-width="0.35">*</text>
<text transform="translate(-0.24,770.10) scale(0.9406,1)" font-size="49.75" font-weight="normal">C</text>
<rect x="248.3" y="985.8" width="62.6" height="132.2" fill="#fff" stroke="#000" stroke-width="4.6"/>
<rect x="350.5" y="1032.2" width="62.6" height="85.8" fill="#808080" stroke="#000" stroke-width="4.6"/>
<circle cx="279.7" cy="831.4" r="7.0" fill="#808080" stroke="#000" stroke-width="3.5"/>
<circle cx="279.7" cy="867.5" r="7.0" fill="#808080" stroke="#000" stroke-width="3.5"/>
<circle cx="279.7" cy="896.5" r="7.0" fill="#808080" stroke="#000" stroke-width="3.5"/>
<circle cx="288.5" cy="919.7" r="7.0" fill="#808080" stroke="#000" stroke-width="3.5"/>
<circle cx="270.4" cy="929.3" r="7.0" fill="#808080" stroke="#000" stroke-width="3.5"/>
<circle cx="288.5" cy="936.1" r="7.0" fill="#808080" stroke="#000" stroke-width="3.5"/>
<circle cx="279.7" cy="950.7" r="7.0" fill="#808080" stroke="#000" stroke-width="3.5"/>
<circle cx="306.2" cy="977.2" r="7.0" fill="#808080" stroke="#000" stroke-width="3.5"/>
<circle cx="270.4" cy="989.8" r="7.0" fill="#808080" stroke="#000" stroke-width="3.5"/>
<circle cx="288.5" cy="988.3" r="7.0" fill="#808080" stroke="#000" stroke-width="3.5"/>
<circle cx="252.7" cy="994.9" r="7.0" fill="#808080" stroke="#000" stroke-width="3.5"/>
<circle cx="306.2" cy="992.9" r="7.0" fill="#808080" stroke="#000" stroke-width="3.5"/>
<circle cx="270.4" cy="1008.5" r="7.0" fill="#808080" stroke="#000" stroke-width="3.5"/>
<circle cx="288.5" cy="1006.7" r="7.0" fill="#808080" stroke="#000" stroke-width="3.5"/>
<circle cx="252.7" cy="1016.1" r="7.0" fill="#808080" stroke="#000" stroke-width="3.5"/>
<circle cx="306.2" cy="1013.5" r="7.0" fill="#808080" stroke="#000" stroke-width="3.5"/>
<circle cx="288.5" cy="1027.4" r="7.0" fill="#808080" stroke="#000" stroke-width="3.5"/>
<circle cx="252.7" cy="1040.8" r="7.0" fill="#808080" stroke="#000" stroke-width="3.5"/>
<circle cx="288.5" cy="1045.1" r="7.0" fill="#808080" stroke="#000" stroke-width="3.5"/>
<circle cx="270.4" cy="1054.1" r="7.0" fill="#808080" stroke="#000" stroke-width="3.5"/>
<circle cx="288.5" cy="1065.5" r="7.0" fill="#808080" stroke="#000" stroke-width="3.5"/>
<circle cx="270.4" cy="1069.8" r="7.0" fill="#808080" stroke="#000" stroke-width="3.5"/>
<circle cx="381.3" cy="929.3" r="7.0" fill="#808080" stroke="#000" stroke-width="3.5"/>
<circle cx="381.3" cy="957.5" r="7.0" fill="#808080" stroke="#000" stroke-width="3.5"/>
<circle cx="381.3" cy="977.0" r="7.0" fill="#808080" stroke="#000" stroke-width="3.5"/>
<circle cx="368.2" cy="987.3" r="7.0" fill="#808080" stroke="#000" stroke-width="3.5"/>
<circle cx="408.6" cy="994.1" r="7.0" fill="#808080" stroke="#000" stroke-width="3.5"/>
<circle cx="354.8" cy="1009.2" r="7.0" fill="#808080" stroke="#000" stroke-width="3.5"/>
<circle cx="368.2" cy="1004.7" r="7.0" fill="#808080" stroke="#000" stroke-width="3.5"/>
<circle cx="395.2" cy="1005.5" r="7.0" fill="#808080" stroke="#000" stroke-width="3.5"/>
<circle cx="408.6" cy="1012.3" r="7.0" fill="#808080" stroke="#000" stroke-width="3.5"/>
<circle cx="395.2" cy="1022.4" r="7.0" fill="#808080" stroke="#000" stroke-width="3.5"/>
<circle cx="381.3" cy="1028.2" r="7.0" fill="#808080" stroke="#000" stroke-width="3.5"/>
<circle cx="381.3" cy="1043.3" r="7.0" fill="#808080" stroke="#000" stroke-width="3.5"/>
<circle cx="395.2" cy="1042.5" r="7.0" fill="#808080" stroke="#000" stroke-width="3.5"/>
<circle cx="354.8" cy="1050.9" r="7.0" fill="#808080" stroke="#000" stroke-width="3.5"/>
<circle cx="368.2" cy="1052.1" r="7.0" fill="#808080" stroke="#000" stroke-width="3.5"/>
<circle cx="408.6" cy="1053.4" r="7.0" fill="#808080" stroke="#000" stroke-width="3.5"/>
<circle cx="381.3" cy="1059.7" r="7.0" fill="#808080" stroke="#000" stroke-width="3.5"/>
<circle cx="395.2" cy="1061.0" r="7.0" fill="#808080" stroke="#000" stroke-width="3.5"/>
<circle cx="368.2" cy="1066.5" r="7.0" fill="#808080" stroke="#000" stroke-width="3.5"/>
<circle cx="381.3" cy="1076.8" r="7.0" fill="#808080" stroke="#000" stroke-width="3.5"/>
<circle cx="395.2" cy="1076.8" r="7.0" fill="#808080" stroke="#000" stroke-width="3.5"/>
<circle cx="354.8" cy="1084.9" r="7.0" fill="#808080" stroke="#000" stroke-width="3.5"/>
<circle cx="408.6" cy="1088.2" r="7.0" fill="#808080" stroke="#000" stroke-width="3.5"/>
<line x1="279.6" y1="969.4" x2="279.6" y2="996.6" stroke="#000" stroke-width="4" stroke-linecap="butt"/>
<line x1="262.6" y1="969.4" x2="296.6" y2="969.4" stroke="#000" stroke-width="4" stroke-linecap="butt"/>
<line x1="262.6" y1="996.6" x2="296.6" y2="996.6" stroke="#000" stroke-width="4" stroke-linecap="butt"/>
<line x1="381.8" y1="1020.1" x2="381.8" y2="1038.7" stroke="#000" stroke-width="4" stroke-linecap="butt"/>
<line x1="364.8" y1="1020.1" x2="398.8" y2="1020.1" stroke="#000" stroke-width="4" stroke-linecap="butt"/>
<line x1="364.8" y1="1038.7" x2="398.8" y2="1038.7" stroke="#000" stroke-width="4" stroke-linecap="butt"/>
<line x1="211.8" y1="758.8" x2="211.8" y2="1119.8" stroke="#000" stroke-width="3.6" stroke-linecap="butt"/>
<line x1="201.0" y1="1118.0" x2="211.8" y2="1118.0" stroke="#000" stroke-width="3.6" stroke-linecap="butt"/>
<text transform="translate(182.87,1128.50)" font-size="27.24" font-weight="bold">0</text>
<line x1="201.0" y1="1028.7" x2="211.8" y2="1028.7" stroke="#000" stroke-width="3.6" stroke-linecap="butt"/>
<text transform="translate(167.75,1039.15)" font-size="27.24" font-weight="bold">20</text>
<line x1="201.0" y1="939.3" x2="211.8" y2="939.3" stroke="#000" stroke-width="3.6" stroke-linecap="butt"/>
<text transform="translate(167.75,949.80)" font-size="27.24" font-weight="bold">40</text>
<line x1="201.0" y1="850.0" x2="211.8" y2="850.0" stroke="#000" stroke-width="3.6" stroke-linecap="butt"/>
<text transform="translate(167.75,860.45)" font-size="27.24" font-weight="bold">60</text>
<line x1="201.0" y1="760.6" x2="211.8" y2="760.6" stroke="#000" stroke-width="3.6" stroke-linecap="butt"/>
<text transform="translate(167.75,771.10)" font-size="27.24" font-weight="bold">80</text>
<line x1="211.8" y1="1118.0" x2="451.7" y2="1118.0" stroke="#000" stroke-width="3.6" stroke-linecap="butt"/>
<line x1="279.6" y1="1118.0" x2="279.6" y2="1128.5" stroke="#000" stroke-width="3.6" stroke-linecap="butt"/>
<line x1="381.8" y1="1118.0" x2="381.8" y2="1128.5" stroke="#000" stroke-width="3.6" stroke-linecap="butt"/>
<text transform="translate(114.20,1118.56) rotate(-90) scale(1.0029,1)" font-size="28.97" font-weight="bold">Mean number of epiretinal</text>
<text transform="translate(149.90,1067.37) rotate(-90) scale(1.0101,1)" font-size="28.55" font-weight="bold">neovascular nuclei</text>
<line x1="279.8" y1="789.5" x2="381.4" y2="789.5" stroke="#000" stroke-width="4" stroke-linecap="butt"/>
<path d="M320.60,753.00L320.60,771.80M328.74,757.70L312.46,767.10M328.74,767.10L312.46,757.70" stroke="#000" stroke-width="3.1" fill="none"/>
<path d="M344.20,753.00L344.20,771.80M352.34,757.70L336.06,767.10M352.34,767.10L336.06,757.70" stroke="#000" stroke-width="3.1" fill="none"/>
<text transform="translate(212.50,1231.70) rotate(-45) scale(1.0029,1)" font-size="29.45" font-weight="bold">control</text>
<text transform="translate(297.05,1248.97) rotate(-45) scale(0.9988,1)" font-size="29.45" font-weight="bold">rec. Gas6</text>
<text transform="translate(661.02,770.40) scale(0.9578,1)" font-size="49.16" font-weight="normal">D</text>
<rect x="862.4" y="977.9" width="59.6" height="143.2" fill="#fff" stroke="#000" stroke-width="4.6"/>
<rect x="961.1" y="954.7" width="59.6" height="166.4" fill="#808080" stroke="#000" stroke-width="4.6"/>
<circle cx="878.5" cy="881.2" r="7.0" fill="#808080" stroke="#000" stroke-width="3.3"/>
<circle cx="906.4" cy="886.7" r="7.0" fill="#808080" stroke="#000" stroke-width="3.3"/>
<circle cx="892.5" cy="910.6" r="7.0" fill="#808080" stroke="#000" stroke-width="3.3"/>
<circle cx="878.5" cy="968.3" r="7.0" fill="#808080" stroke="#000" stroke-width="3.3"/>
<circle cx="906.6" cy="961.0" r="7.0" fill="#808080" stroke="#000" stroke-width="3.3"/>
<circle cx="892.7" cy="990.5" r="7.0" fill="#808080" stroke="#000" stroke-width="3.3"/>
<circle cx="892.7" cy="1021.3" r="7.0" fill="#808080" stroke="#000" stroke-width="3.3"/>
<circle cx="892.7" cy="1061.0" r="7.0" fill="#808080" stroke="#000" stroke-width="3.3"/>
<circle cx="892.7" cy="1097.4" r="7.0" fill="#808080" stroke="#000" stroke-width="3.3"/>
<circle cx="991.0" cy="827.6" r="7.0" fill="#808080" stroke="#000" stroke-width="3.3"/>
<circle cx="977.8" cy="903.8" r="7.0" fill="#808080" stroke="#000" stroke-width="3.3"/>
<circle cx="1003.6" cy="894.5" r="7.0" fill="#808080" stroke="#000" stroke-width="3.3"/>
<circle cx="965.2" cy="928.6" r="7.0" fill="#808080" stroke="#000" stroke-width="3.3"/>
<circle cx="1016.8" cy="932.6" r="7.0" fill="#808080" stroke="#000" stroke-width="3.3"/>
<circle cx="991.0" cy="942.8" r="7.0" fill="#808080" stroke="#000" stroke-width="3.3"/>
<circle cx="977.8" cy="1030.6" r="7.0" fill="#808080" stroke="#000" stroke-width="3.3"/>
<circle cx="1003.6" cy="1040.5" r="7.0" fill="#808080" stroke="#000" stroke-width="3.3"/>
<circle cx="991.0" cy="1069.3" r="7.0" fill="#808080" stroke="#000" stroke-width="3.3"/>
<line x1="892.2" y1="949.1" x2="892.2" y2="1000.8" stroke="#000" stroke-width="4" stroke-linecap="butt"/>
<line x1="876.4" y1="949.1" x2="908.0" y2="949.1" stroke="#000" stroke-width="4" stroke-linecap="butt"/>
<line x1="876.4" y1="1000.8" x2="908.0" y2="1000.8" stroke="#000" stroke-width="4" stroke-linecap="butt"/>
<line x1="990.9" y1="926.0" x2="990.9" y2="978.3" stroke="#000" stroke-width="4" stroke-linecap="butt"/>
<line x1="975.1" y1="926.0" x2="1006.7" y2="926.0" stroke="#000" stroke-width="4" stroke-linecap="butt"/>
<line x1="975.1" y1="978.3" x2="1006.7" y2="978.3" stroke="#000" stroke-width="4" stroke-linecap="butt"/>
<line x1="826.9" y1="774.6" x2="826.9" y2="1122.9" stroke="#000" stroke-width="3.6" stroke-linecap="butt"/>
<line x1="816.2" y1="1121.1" x2="826.9" y2="1121.1" stroke="#000" stroke-width="3.6" stroke-linecap="butt"/>
<text transform="translate(799.67,1131.30) scale(0.9600,1)" font-size="25.95" font-weight="bold">0</text>
<line x1="816.2" y1="1052.2" x2="826.9" y2="1052.2" stroke="#000" stroke-width="3.6" stroke-linecap="butt"/>
<text transform="translate(785.84,1062.36) scale(0.9600,1)" font-size="25.95" font-weight="bold">10</text>
<line x1="816.2" y1="983.2" x2="826.9" y2="983.2" stroke="#000" stroke-width="3.6" stroke-linecap="butt"/>
<text transform="translate(785.84,993.42) scale(0.9600,1)" font-size="25.95" font-weight="bold">20</text>
<line x1="816.2" y1="914.3" x2="826.9" y2="914.3" stroke="#000" stroke-width="3.6" stroke-linecap="butt"/>
<text transform="translate(785.84,924.48) scale(0.9600,1)" font-size="25.95" font-weight="bold">30</text>
<line x1="816.2" y1="845.3" x2="826.9" y2="845.3" stroke="#000" stroke-width="3.6" stroke-linecap="butt"/>
<text transform="translate(785.84,855.54) scale(0.9600,1)" font-size="25.95" font-weight="bold">40</text>
<line x1="816.2" y1="776.4" x2="826.9" y2="776.4" stroke="#000" stroke-width="3.6" stroke-linecap="butt"/>
<text transform="translate(785.84,786.60) scale(0.9600,1)" font-size="25.95" font-weight="bold">50</text>
<line x1="826.9" y1="1121.1" x2="1058.1" y2="1121.1" stroke="#000" stroke-width="3.6" stroke-linecap="butt"/>
<line x1="892.2" y1="1121.1" x2="892.2" y2="1131.3" stroke="#000" stroke-width="3.6" stroke-linecap="butt"/>
<line x1="990.9" y1="1121.1" x2="990.9" y2="1131.3" stroke="#000" stroke-width="3.6" stroke-linecap="butt"/>
<text transform="translate(732.70,1055.30) rotate(-90) scale(1.0141,1)" font-size="27.72" font-weight="bold">Mean number of</text>
<text transform="translate(767.60,1139.02) rotate(-90) scale(0.9879,1)" font-size="28.28" font-weight="bold">epiretinal neovascular nuclei</text>
<text transform="translate(833.37,1224.73) rotate(-45)" font-size="28.35" font-weight="bold">control</text>
<text transform="translate(888.80,1267.31) rotate(-45)" font-size="28.35" font-weight="bold">rec. MFGE8</text>
</svg></body></html>
